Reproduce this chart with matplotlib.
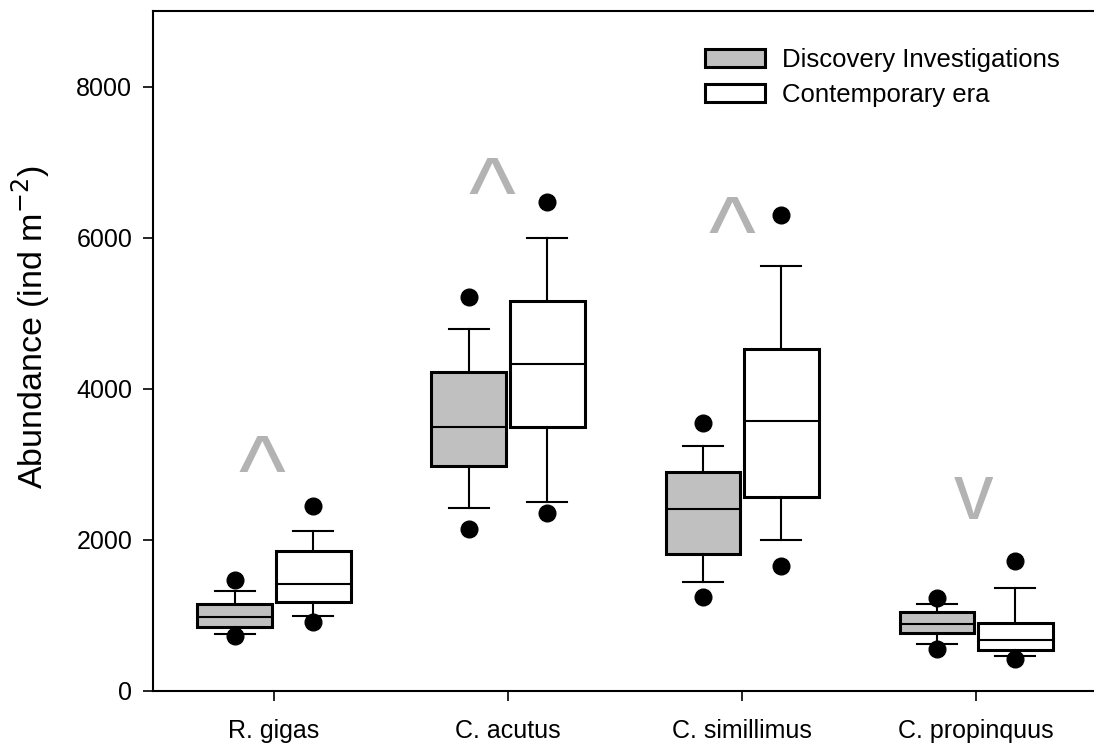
import matplotlib
matplotlib.use('Agg')
import matplotlib.pyplot as plt
from matplotlib.patches import Patch

plt.rcParams['font.family'] = ['Liberation Sans', 'DejaVu Sans']

# Data
species = ['R. gigas', 'C. acutus', 'C. simillimus', 'C. propinquus']

# Discovery Investigations (grey)
disc_q1 = [842, 2978, 1811, 767]
disc_med = [975, 3492, 2408, 886]
disc_q3 = [1152, 4216, 2895, 1046]
disc_whislo = [750, 2421, 1440, 621]
disc_whishi = [1320, 4796, 3244, 1148]
disc_low_out = [723, 2143, 1240, 551]
disc_high_out = [1466, 5217, 3545, 1236]

# Contemporary era (white)
cont_q1 = [1174, 3500, 2571, 547]
cont_med = [1417, 4322, 3571, 670]
cont_q3 = [1851, 5158, 4531, 905]
cont_whislo = [988, 2500, 1997, 462]
cont_whishi = [2116, 5999, 5619, 1364]
cont_low_out = [913, 2355, 1652, 418]
cont_high_out = [2448, 6472, 6295, 1727]

# significance marks (increase / decrease)
marks = ['^', '^', '^', 'v']
mark_y = [3125, 6806, 6286, 2554]
mark_dx = [-0.05, -0.07, -0.045, -0.01]


def make_stats(q1, med, q3, wlo, whi, lo, hi):
    stats = []
    for i in range(len(q1)):
        stats.append({'q1': q1[i], 'med': med[i], 'q3': q3[i],
                      'whislo': wlo[i], 'whishi': whi[i],
                      'fliers': [lo[i], hi[i]]})
    return stats


fig = plt.figure(figsize=(10.94, 7.51), dpi=100)
ax = fig.add_axes([153 / 1094, 1 - 691 / 751, 1 - 153 / 1094, 680 / 751])

pos = list(range(1, len(species) + 1))
off = 0.167
width = 0.32

groups = [
    (make_stats(disc_q1, disc_med, disc_q3, disc_whislo, disc_whishi,
                disc_low_out, disc_high_out), -off, '#c0c0c0'),
    (make_stats(cont_q1, cont_med, cont_q3, cont_whislo, cont_whishi,
                cont_low_out, cont_high_out), off, 'white'),
]
for stats, dx, fc in groups:
    ax.bxp(stats, positions=[p + dx for p in pos], widths=width,
           capwidths=width * 0.53, patch_artist=True, manage_ticks=False,
           boxprops=dict(facecolor=fc, edgecolor='black', linewidth=2.2),
           medianprops=dict(color='black', linewidth=1.5),
           whiskerprops=dict(color='black', linewidth=1.5),
           capprops=dict(color='black', linewidth=1.5),
           flierprops=dict(marker='o', markerfacecolor='black',
                           markeredgecolor='black', markersize=12))

# caret glyphs: shift so the ink is centred on the value
for p, m, y, dx in zip(pos, marks, mark_y, mark_dx):
    if m == '^':
        ax.annotate(m, (p + dx, y), xytext=(0, -17.5),
                    textcoords='offset points', ha='center', va='center',
                    fontsize=72, color='#b3b3b3')
    else:
        ax.annotate(m, (p + dx, y), xytext=(0, 0),
                    textcoords='offset points', ha='center', va='center',
                    fontsize=57, color='#b3b3b3')

ax.set_xlim(0.483, 4.504)
ax.set_ylim(0, 9000)
ax.set_xticks(pos)
ax.set_xticklabels(species)
ax.set_yticks([0, 2000, 4000, 6000, 8000])
ax.tick_params(axis='y', direction='out', length=7, width=1.2, pad=8,
               labelsize=18)
ax.tick_params(axis='x', direction='out', length=7, width=1.2, pad=13.5,
               labelsize=18)
ax.spines['right'].set_visible(False)
for s in ['left', 'top', 'bottom']:
    ax.spines[s].set_linewidth(1.5)

ax.set_ylabel('Abundance (ind m$^{-2}$)', fontsize=24.5)
ax.yaxis.set_label_coords(-0.107, 0.535)

handles = [Patch(facecolor='#c0c0c0', edgecolor='black', linewidth=2.2),
           Patch(facecolor='white', edgecolor='black', linewidth=2.2)]
ax.legend(handles, ['Discovery Investigations', 'Contemporary era'],
          loc='upper left', bbox_to_anchor=(0.5866, 0.945), frameon=False,
          fontsize=18.5, handlelength=2.33, handleheight=0.7,
          handletextpad=0.66, labelspacing=0.42, borderpad=0,
          borderaxespad=0)

fig.savefig('out.png', dpi=100)
